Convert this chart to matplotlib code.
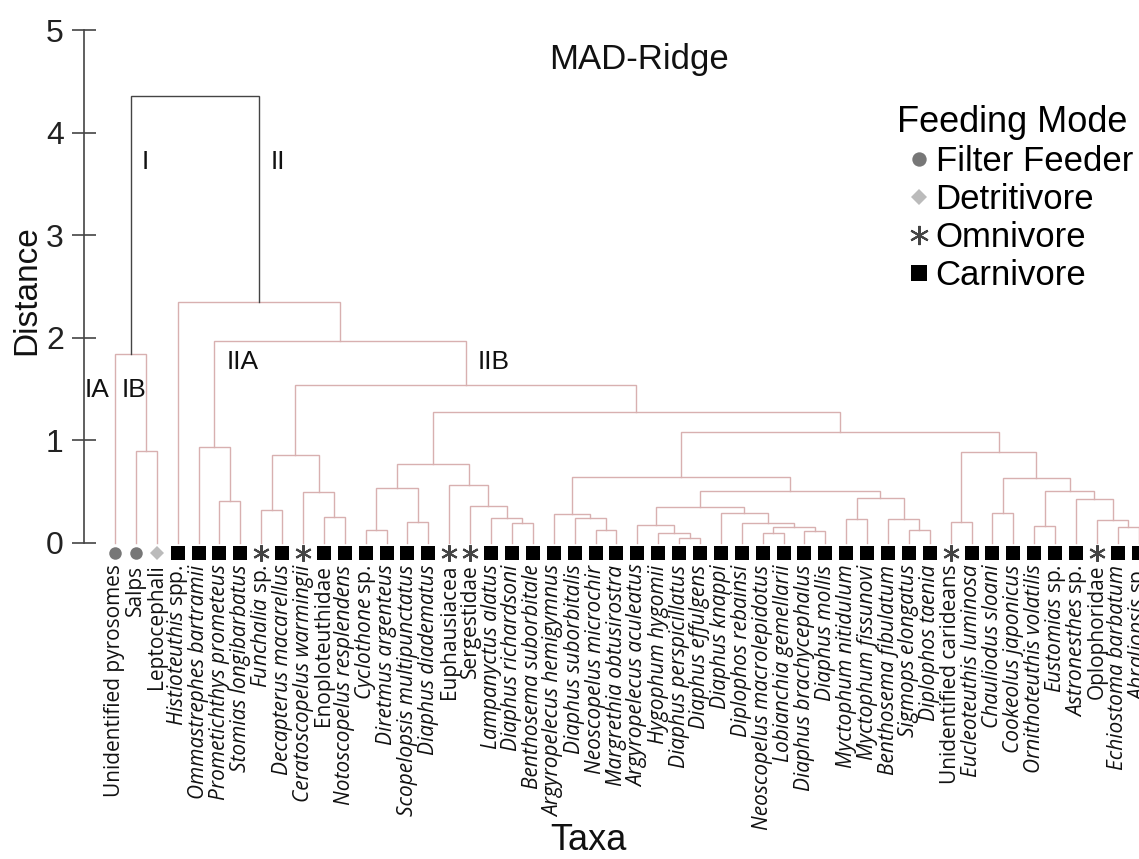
import matplotlib.pyplot as plt
from matplotlib.lines import Line2D

plt.rcParams['font.family'] = ['Liberation Sans', 'DejaVu Sans']
plt.rcParams['mathtext.fontset'] = 'custom'
plt.rcParams['mathtext.rm'] = 'Open Sans'
plt.rcParams['mathtext.it'] = 'Open Sans:italic'

# leaf order as drawn, left to right
taxa = ['Unidentified pyrosomes', 'Salps', 'Leptocephali', 'Histioteuthis spp.',
        'Ommastrephes bartramii', 'Prometichthys prometeus', 'Stomias longibarbatus',
        'Funchalia sp.', 'Decapterus macarellus', 'Ceratoscopelus warmingii',
        'Enoploteuthidae', 'Notoscopelus resplendens', 'Cyclothone sp.',
        'Diretmus argenteus', 'Scopelopsis multipunctatus', 'Diaphus diadematus',
        'Euphausiacea', 'Sergestidae', 'Lampanyctus alatus', 'Diaphus richardsoni',
        'Benthosema suborbitale', 'Argyropelecus hemigymnus', 'Diaphus suborbitalis',
        'Neoscopelus microchir', 'Margrethia obtusirostra', 'Argyropelecus aculeatus',
        'Hygophum hygomii', 'Diaphus perspicillatus', 'Diaphus effulgens',
        'Diaphus knappi', 'Diplophos rebainsi', 'Neoscopelus macrolepidotus',
        'Lobianchia gemellarii', 'Diaphus brachycephalus', 'Diaphus mollis',
        'Myctophum nitidulum', 'Myctophum fissunovi', 'Benthosema fibulatum',
        'Sigmops elongatus', 'Diplophos taenia', 'Unidentified carideans',
        'Eucleoteuthis luminosa', 'Chauliodus sloani', 'Cookeolus japonicus',
        'Ornithoteuthis volatilis', 'Eustomias sp.', 'Astronesthes sp.',
        'Oplophoridae', 'Echiostoma barbatum', 'Abraliopsis sp.']

# n = normal, i = italic, g = italic genus + "sp."
name_style = ['n', 'n', 'n', 'g', 'i', 'i', 'i', 'g', 'i', 'i',
              'n', 'i', 'g', 'i', 'i', 'i', 'n', 'n', 'i', 'i',
              'i', 'i', 'i', 'i', 'i', 'i', 'i', 'i', 'i', 'i',
              'i', 'i', 'i', 'i', 'i', 'i', 'i', 'i', 'i', 'i',
              'n', 'i', 'i', 'i', 'i', 'g', 'g', 'n', 'i', 'g']

# F filter feeder, D detritivore, O omnivore, C carnivore
feeding = ['F', 'F', 'D', 'C', 'C', 'C', 'C', 'O', 'C', 'O',
           'C', 'C', 'C', 'C', 'C', 'C', 'O', 'O', 'C', 'C',
           'C', 'C', 'C', 'C', 'C', 'C', 'C', 'C', 'C', 'C',
           'C', 'C', 'C', 'C', 'C', 'C', 'C', 'C', 'C', 'C',
           'O', 'C', 'C', 'C', 'C', 'C', 'C', 'O', 'C', 'C']

# merges: (child a, child b, distance); ids >= 50 are earlier merges
merges = [(1, 2, 0.90), (0, 50, 1.84), (5, 6, 0.41), (4, 52, 0.94),
          (7, 8, 0.32), (10, 11, 0.25), (9, 55, 0.50), (54, 56, 0.86),
          (12, 13, 0.13), (14, 15, 0.20), (58, 59, 0.54), (19, 20, 0.19),
          (18, 61, 0.24), (17, 62, 0.36), (16, 63, 0.57), (60, 64, 0.77),
          (23, 24, 0.13), (22, 66, 0.24), (21, 67, 0.28), (27, 28, 0.05),
          (26, 69, 0.10), (25, 70, 0.18), (31, 32, 0.10), (33, 34, 0.12),
          (72, 73, 0.16), (30, 74, 0.195), (29, 75, 0.29), (71, 76, 0.35),
          (35, 36, 0.23), (38, 39, 0.13), (37, 79, 0.23), (78, 80, 0.44),
          (77, 81, 0.51), (68, 82, 0.64), (40, 41, 0.20), (42, 43, 0.29),
          (44, 45, 0.17), (48, 49, 0.16), (47, 87, 0.22), (46, 88, 0.43),
          (86, 89, 0.51), (85, 90, 0.63), (84, 91, 0.89), (83, 92, 1.08),
          (65, 93, 1.28), (57, 94, 1.54), (53, 95, 1.97), (3, 96, 2.35),
          (51, 97, 4.36)]

group_labels = ['I', 'II', 'IA', 'IB', 'IIA', 'IIB']
group_pos = [(1.44, 3.71), (7.8, 3.71), (-0.86, 1.49), (0.91, 1.49),
             (6.12, 1.76), (18.13, 1.76)]

mode_names = ['Filter Feeder', 'Detritivore', 'Omnivore', 'Carnivore']
mode_codes = ['F', 'D', 'O', 'C']
mode_style = {'F': dict(marker='o', color='#777777', ms=9, mew=0),
              'D': dict(marker='D', color='#bbbbbb', ms=7.5, mew=0),
              'O': dict(marker=(6, 2, 0), color='#444444', ms=12, mew=1.5),
              'C': dict(marker='s', color='black', ms=9.5, mew=0)}

pink = '#d8b0b0'
dark = '#444444'

fig = plt.figure(figsize=(11.39, 8.59), dpi=100)
ax = fig.add_axes([0.07375, 0.344, 0.926, 0.633])

n = len(taxa)
xpos = {i: float(i) for i in range(n)}
hgt = {i: 0.0 for i in range(n)}
for k, (a, b, h) in enumerate(merges):
    col = dark if k == len(merges) - 1 else pink
    ax.plot([xpos[a], xpos[a], xpos[b], xpos[b]], [hgt[a], h, h, hgt[b]],
            color=col, lw=1.0, solid_joinstyle='miter')
    xpos[n + k] = (xpos[a] + xpos[b]) / 2
    hgt[n + k] = h

# feeding mode markers under the leaves
for code in mode_codes:
    xs = [i for i in range(n) if feeding[i] == code]
    ax.plot(xs, [-0.1] * len(xs), ls='none', clip_on=False, **mode_style[code])

# leaf labels
for i, name in enumerate(taxa):
    st = name_style[i]
    if st == 'g':
        genus, rest = name.rsplit(' ', 1)
        txt = r'$\mathit{' + genus + '}$ ' + rest
        style = 'normal'
    else:
        txt = name
        style = 'italic' if st == 'i' else 'normal'
    ax.text(i, -0.21, txt, rotation=90, ha='center', va='top', fontsize=15,
            family='Open Sans', style=style, color='#111111', clip_on=False)

for lab, (gx, gy) in zip(group_labels, group_pos):
    ax.text(gx, gy, lab, ha='center', va='center', fontsize=19, color='#111111')

ax.text(25.1, 4.71, 'MAD-Ridge', ha='center', va='center', fontsize=25, color='#111111')

ax.set_xlim(-1.483, 49.0)
ax.set_ylim(-0.2, 5.1)
ax.set_xticks([])
ax.set_yticks([0, 1, 2, 3, 4, 5])
for s in ['top', 'right', 'bottom']:
    ax.spines[s].set_visible(False)
ax.spines['left'].set_bounds(0, 5)
ax.spines['left'].set_color(dark)
ax.spines['left'].set_linewidth(1.2)
ax.tick_params(axis='y', direction='inout', length=17, width=1.2, color=dark,
               labelsize=23, pad=6.0, labelcolor='#222222')

fig.text(27 / 1139, 1 - 290 / 859, 'Distance', rotation=90, ha='center', va='center',
         fontsize=24, color='#111111')
fig.text(588 / 1139, 1 - 841 / 859, 'Taxa', ha='center', va='center',
         fontsize=26, color='#111111')

handles = [Line2D([], [], ls='none', **mode_style[c]) for c in mode_codes]
leg = fig.legend(handles, mode_names, title='Feeding Mode', loc='upper left',
                 bbox_to_anchor=(873 / 1139, 1 - 81 / 859), frameon=False,
                 fontsize=25, title_fontsize=26, handlelength=1.25,
                 handletextpad=-0.15, labelspacing=0.14, borderpad=0.2,
                 markerscale=1.15)
leg._legend_box.align = 'left'

fig.savefig('out.png', dpi=100)
